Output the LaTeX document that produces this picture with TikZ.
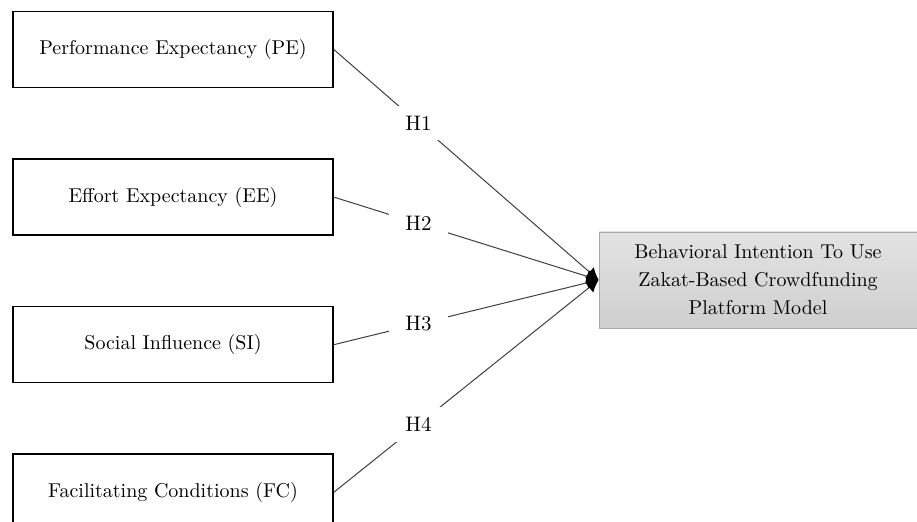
\documentclass[tikz,border=0pt]{standalone}
\usepackage{tikz}
\usetikzlibrary{arrows.meta,positioning}
\definecolor{linkgray}{RGB}{64,64,64}
\definecolor{edgegray}{RGB}{170,170,170}

\begin{document}
\begin{tikzpicture}[
        x=0.5pt, y=0.5pt,
        node distance=35pt,
        construct/.style={draw, line width=0.8pt, minimum width=160pt, minimum height=38pt, font=\fontsize{10}{14}\selectfont, fill=white},
        outcome/.style={draw=edgegray, top color=gray!22, bottom color=gray!38, align=center, minimum width=159pt, minimum height=48pt, font=\fontsize{10}{14}\selectfont},
        hyp/.style={fill=white, inner xsep=8pt, inner ysep=5pt, pos=0.32, font=\fontsize{10.5}{14}\selectfont},
        arr/.style={-{Latex[length=6pt,width=6.5pt,black]}, draw=linkgray, line width=0.5pt}
    ]
    \useasboundingbox (0,0) rectangle (917,522);
    \node[construct] (pe) at (173,472.5) {Performance Expectancy (PE)};
    \node[construct, below=of pe] (ee) {Effort Expectancy (EE)};
    \node[construct, below=of ee] (si) {Social Influence (SI)};
    \node[construct, below=of si] (fc) {Facilitating Conditions (FC)};

    \node[outcome] (bi) at (758,242) {Behavioral Intention To Use\\Zakat-Based Crowdfunding\\Platform Model};

    \draw[arr] (pe.east) -- node[hyp] {H1} (bi.west);
    \draw[arr] (ee.east) -- node[hyp] {H2} (bi.west);
    \draw[arr] (si.east) -- node[hyp] {H3} (bi.west);
    \draw[arr] (fc.east) -- node[hyp] {H4} (bi.west);
    \end{tikzpicture}
\end{document}
